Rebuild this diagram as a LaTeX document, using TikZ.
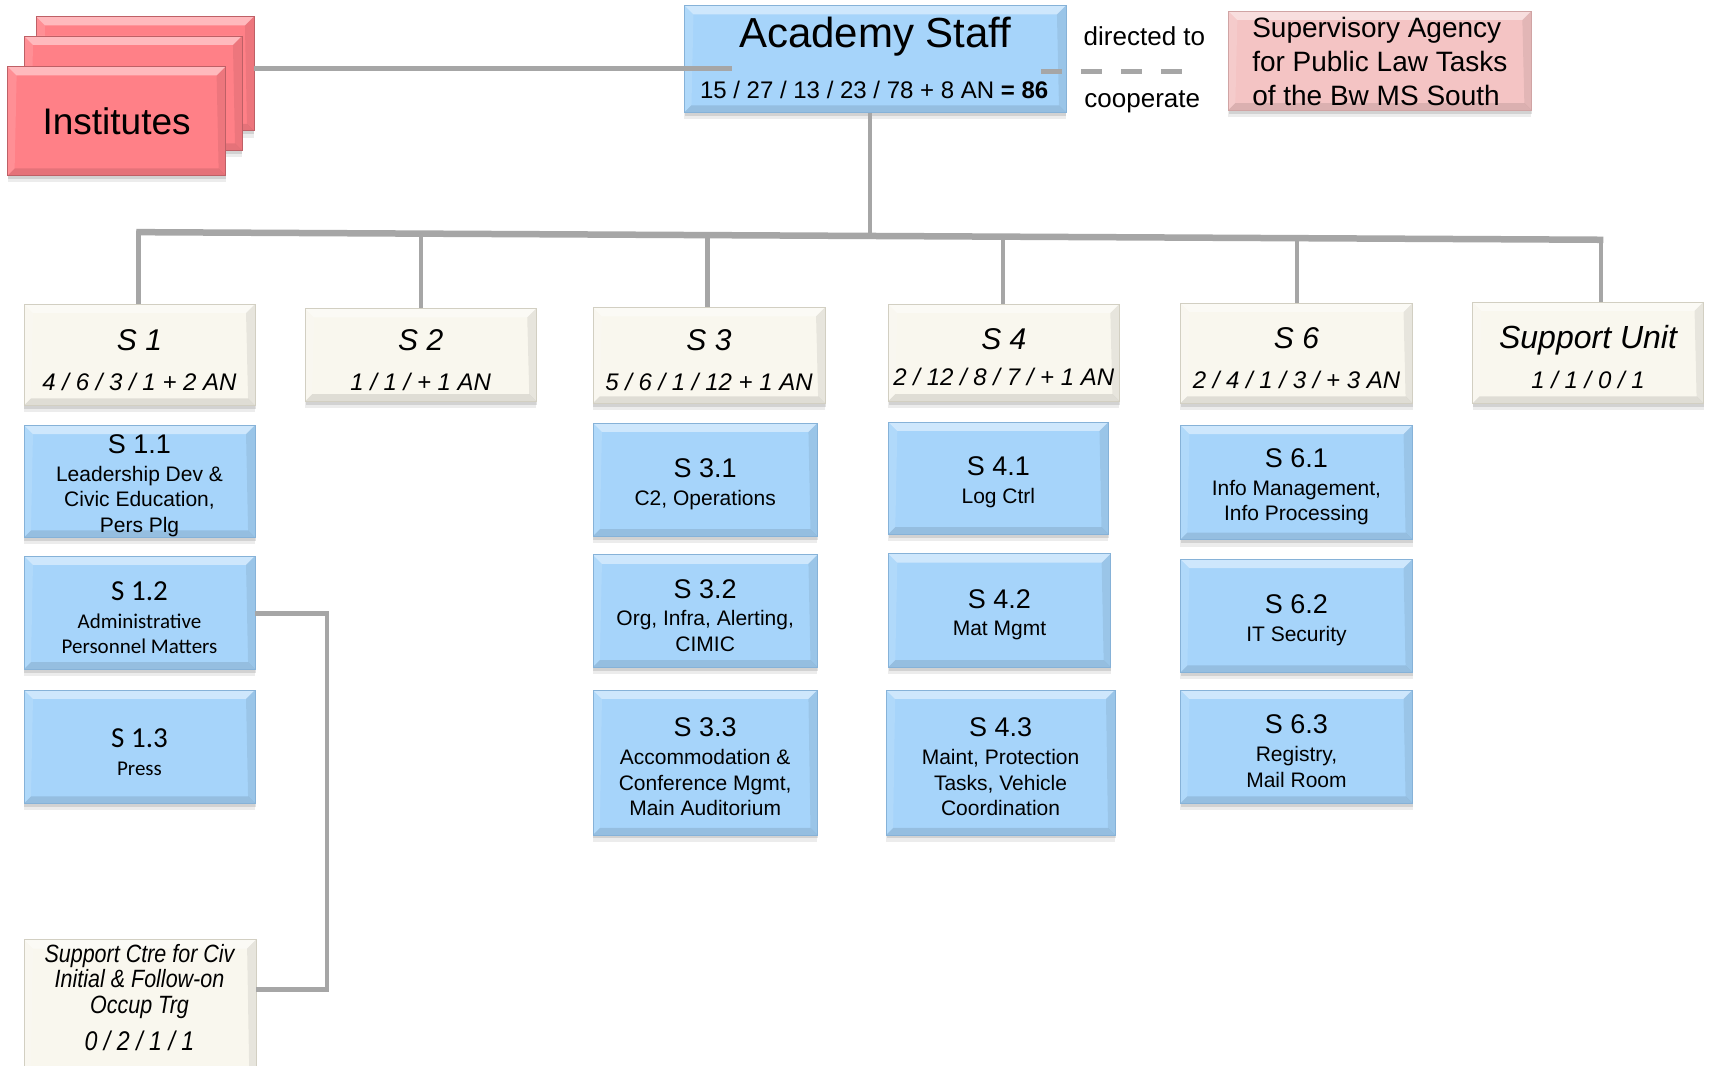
\documentclass[tikz,border=0pt]{standalone}
\usepackage{fontspec}
\setmainfont{Liberation Sans}
\newfontfamily\calib{Carlito}
\newfontfamily\narrowf[FakeStretch=0.86]{Liberation Sans}
\usetikzlibrary{shadows}
\definecolor{bluefill}{HTML}{A6D4FA}
\definecolor{blueedge}{HTML}{86B2D8}
\definecolor{creamfill}{HTML}{F9F7EE}
\definecolor{creamedge}{HTML}{D2CFC2}
\definecolor{redfill}{HTML}{FF8087}
\definecolor{rededge}{HTML}{BE6066}
\definecolor{pinkfill}{HTML}{F4C4C4}
\definecolor{pinkedge}{HTML}{D0A4A4}
\definecolor{linegray}{HTML}{A6A6A6}
\newcommand\fs[2]{\fontsize{#1}{#2}\selectfont}
\newcommand\ttl[2]{{\fs{#1}{#1}\rule{0pt}{1.03em}#2}}
\newcommand\bx[7]{%
  \pgfmathsetmacro\bxw{(#5-#3)*1.09}\pgfmathsetmacro\bxh{(#6-#4)*1.09}%
  \node[#2, minimum width=\bxw pt, minimum height=\bxh pt] (#1) at ({(#3+#5)/2},{(#4+#6)/2}) {#7};}
\tikzset{
  bevel/.style={path picture={
    \fill[white,opacity=0.45] (path picture bounding box.north west) -- (path picture bounding box.north east) -- ([shift={(-9pt,-9pt)}]path picture bounding box.north east) -- ([shift={(9pt,-9pt)}]path picture bounding box.north west) -- cycle;
    \fill[black,opacity=0.10] (path picture bounding box.south west) -- (path picture bounding box.south east) -- ([shift={(-7pt,7pt)}]path picture bounding box.south east) -- ([shift={(7pt,7pt)}]path picture bounding box.south west) -- cycle;
    \fill[black,opacity=0.07] (path picture bounding box.south east) -- (path picture bounding box.north east) -- ([shift={(-9pt,-9pt)}]path picture bounding box.north east) -- ([shift={(-7pt,7pt)}]path picture bounding box.south east) -- cycle;
    \fill[white,opacity=0.12] (path picture bounding box.south west) -- (path picture bounding box.north west) -- ([shift={(9pt,-9pt)}]path picture bounding box.north west) -- ([shift={(7pt,7pt)}]path picture bounding box.south west) -- cycle;
  }},
  basebox/.style={rectangle, inner sep=0pt, align=center, line width=0.6pt,
    drop shadow={shadow xshift=0pt, shadow yshift=-7pt, opacity=0.10, fill=black!70},
    drop shadow={shadow xshift=0.5pt, shadow yshift=-3.5pt, opacity=0.16, fill=black!70}, bevel},
  bluebox/.style={basebox, fill=bluefill, draw=blueedge, font=\fs{21}{25.6}},
  calbox/.style={bluebox, font=\calib\fs{21}{25.6}},
  creambox/.style={basebox, fill=creamfill, draw=creamedge, font=\fs{24}{40}\itshape},
  redbox/.style={basebox, fill=redfill, draw=rededge},
  pinkbox/.style={basebox, fill=pinkfill, draw=pinkedge},
  conn/.style={draw=linegray, line width=4.4pt},
  barline/.style={draw=linegray, line width=6.5pt},
  plain/.style={inner sep=0pt, text=black},
}
\begin{document}
\begin{tikzpicture}[x=1.09pt, y=-1.09pt]
\useasboundingbox[fill=white] (0,0) rectangle (1568,978);

% Institutes stack
\bx{inst3}{redbox}{33}{15}{233}{120}{}
\bx{inst2}{redbox}{22}{33}{222}{138}{}
\bx{inst1}{redbox}{7}{61}{207}{161}{\fs{37}{40}Institutes}

% Academy Staff
\bx{acad}{bluebox}{628}{5}{978}{103}{}
\node[plain, anchor=base, font=\fs{42}{44}] (acadT) at (803,44) {Academy Staff};
\node[plain, anchor=base, font=\fs{24}{26}] (acadN) at (802,90) {15 / 27 / 13 / 23 / 78 + 8 AN \textbf{= 86}};

% Supervisory agency
\bx{sup}{pinkbox}{1127}{10}{1405}{101}{}
\node[plain, align=left, font=\fs{28}{33.8}] (supT) at ([yshift=-1pt]sup.center) {Supervisory Agency\\for Public Law Tasks\\of the Bw MS South};

\node[plain, anchor=base, font=\fs{26}{28}] (dir) at (1050,41.5) {directed to};
\node[plain, anchor=base, font=\fs{26}{28}] (coop) at (1048,98.5) {cooperate};

% Level 2
\bx{s1}{creambox}{22}{279}{234}{372}{\ttl{30}{S 1}\\4 / 6 / 3 / 1 + 2 AN}
\bx{s2}{creambox}{280}{283}{492}{368}{\ttl{30}{S 2}\\1 / 1 / + 1 AN}
\bx{s3}{creambox}{544}{282}{757}{370}{\ttl{30}{S 3}\\5 / 6 / 1 / 12 + 1 AN}
\bx{s4}{creambox}{815}{279}{1027}{368}{\ttl{30}{S 4}\\[-4pt]2 / 12 / 8 / 7 / + 1 AN}
\bx{s6}{creambox}{1083}{278}{1296}{370}{\ttl{30}{S 6}\\2 / 4 / 1 / 3 / + 3 AN}
\bx{su}{creambox}{1351}{277}{1563}{370}{\ttl{32}{Support Unit}\\1 / 1 / 0 / 1}

% Level 3
\bx{s11}{bluebox}{22}{390}{234}{493}{\ttl{27}{S 1.1}\\[2pt]Leadership Dev \&\\Civic Education,\\Pers Plg}
\bx{s12}{calbox}{22}{510}{234}{614}{\ttl{29}{S 1.2}\\[2pt]Administrative\\Personnel Matters}
\bx{s13}{calbox}{22}{633}{234}{737}{\ttl{29}{S 1.3}\\[2pt]Press}
\bx{s31}{bluebox}{544}{388}{750}{492}{\ttl{27}{S 3.1}\\[2pt]C2, Operations}
\bx{s32}{bluebox}{544}{509}{750}{612}{\ttl{27}{S 3.2}\\[2pt]Org, Infra, Alerting,\\CIMIC}
\bx{s33}{bluebox}{544}{633}{750}{766}{\ttl{27}{S 3.3}\\[2pt]Accommodation \&\\Conference Mgmt,\\Main Auditorium}
\bx{s41}{bluebox}{815}{387}{1017}{490}{\ttl{27}{S 4.1}\\[2pt]Log Ctrl}
\bx{s42}{bluebox}{815}{508}{1019}{612}{\ttl{27}{S 4.2}\\[2pt]Mat Mgmt}
\bx{s43}{bluebox}{813}{633}{1023}{766}{\ttl{27}{S 4.3}\\[2pt]Maint, Protection\\Tasks, Vehicle\\Coordination}
\bx{s61}{bluebox}{1083}{390}{1296}{495}{\ttl{27}{S 6.1}\\[2pt]Info Management,\\Info Processing}
\bx{s62}{bluebox}{1083}{513}{1296}{617}{\ttl{27}{S 6.2}\\[2pt]IT Security}
\bx{s63}{bluebox}{1083}{633}{1296}{737}{\ttl{27}{S 6.3}\\[2pt]Registry,\\Mail Room}

% Support centre
\bx{sc}{creambox}{22}{862}{235}{985}{}
\node[plain, align=center, font=\narrowf\itshape\fs{25}{25.6}] (scT) at (128,915) {Support Ctre for Civ\\Initial \& Follow-on\\Occup Trg\\[11pt]{\fs{27}{27}0 / 2 / 1 / 1}};

% connectors
\coordinate (acadstub) at (672,63);
\draw[conn, line width=5.5pt] (inst3.east |- acadstub) -- (acadstub);
\coordinate (dashstart) at (955,66);
\coordinate (dashend) at (1090,66);
\draw[conn, line width=5pt, dash pattern=on 21pt off 19pt] (dashstart) -- (dashend);

\coordinate (bL) at (125,213);
\coordinate (bR) at (1471,220);
\coordinate (bA) at (798,216.5);
\coordinate (b1) at (127,213);
\coordinate (b2) at (386,214.35);
\coordinate (b3) at (649,215.72);
\coordinate (b4) at (920,217.14);
\coordinate (b6) at (1190,218.55);
\coordinate (bs) at (1469,220);
\draw[conn] (acad.south -| bA) -- (bA);
\draw[conn] (b1) -- (b1 |- s1.north);
\draw[conn] (b2) -- (b2 |- s2.north);
\draw[conn] (b3) -- (b3 |- s3.north);
\draw[conn] (b4) -- (b4 |- s4.north);
\draw[conn] (b6) -- (b6 |- s6.north);
\draw[conn] (bs) -- (bs |- su.north);
\draw[barline] (bL) -- (bR);

\coordinate (j1) at (300,563);
\coordinate (j2) at (300,908);
\draw[conn, line join=miter] (s12.east |- j1) -- (j1) -- (j2) -- (sc.east |- j2);
\end{tikzpicture}
\end{document}
